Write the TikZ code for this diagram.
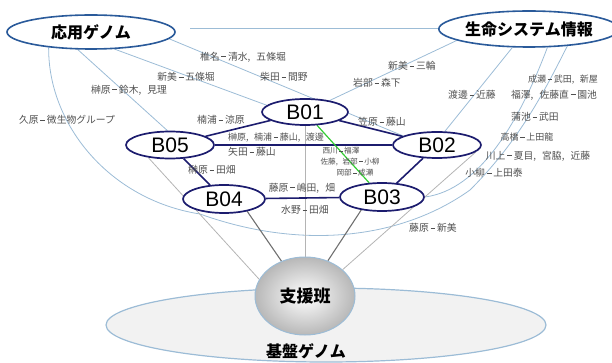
\documentclass[tikz,border=0pt]{standalone}
\usepackage{fontspec}
\setmainfont{Liberation Sans}
\newfontfamily\jp{Noto Sans CJK JP}
\usetikzlibrary{shapes.geometric}
\pgfdeclarelayer{back}\pgfdeclarelayer{mid}
\pgfsetlayers{back,mid,main}
\newcommand\hy{\makebox[0.85em]{\rule[0.34em]{0.5em}{0.075em}}}
\newcommand\cm{\makebox[0.9em][l]{,}}
\definecolor{navy}{HTML}{1C1C6E}
\definecolor{topblue}{HTML}{2A5A9A}
\definecolor{lblue}{HTML}{9CBCD6}
\definecolor{lgray}{HTML}{B4B4B4}
\definecolor{dgray}{HTML}{707070}
\definecolor{labc}{HTML}{505050}
\definecolor{grn}{HTML}{33CC33}
\tikzset{
  topell/.style={ellipse,draw=topblue,line width=1.6pt,fill=white,inner sep=0pt,font=\jp\bfseries\fontsize{16}{16}\selectfont},
  bell/.style={ellipse,draw=navy,line width=1.7pt,fill=white,inner sep=0pt,font=\fontsize{21}{21}\selectfont},
  lab/.style={font=\jp\fontsize{9.8}{9.8}\selectfont,text=labc,inner sep=0pt},
  labm/.style={font=\jp\fontsize{9}{9}\selectfont,text=labc,inner sep=0pt},
  labs/.style={font=\jp\fontsize{7.6}{7.6}\selectfont,text=labc,inner sep=0pt},
  bline/.style={draw=navy,line width=1.6pt},
  lbl/.style={draw=lblue,line width=0.8pt},
  gline/.style={draw=lgray,line width=0.8pt},
  dline/.style={draw=dgray,line width=1.1pt},
}
\begin{document}
\begin{tikzpicture}[x=1pt,y=-1pt]
\useasboundingbox (0,0) rectangle (612,363);
% nodes
\node[topell,minimum width=168pt,minimum height=34pt] (oyo) at (91,32) {応用ゲノム};
\node[topell,minimum width=164pt,minimum height=36pt] (seimei) at (529,29) {生命システム情報};
\node[bell,minimum width=86pt,minimum height=26pt] (B01) at (305,112) {B01};
\node[bell,minimum width=88pt,minimum height=27pt] (B05) at (170,145) {B05};
\node[bell,minimum width=88pt,minimum height=26pt] (B02) at (437,145) {B02};
\node[bell,minimum width=82pt,minimum height=28pt] (B04) at (224,199) {B04};
\node[bell,minimum width=84pt,minimum height=28pt] (B03) at (382,197) {B03};
\node[ellipse,draw=lblue,line width=1pt,minimum width=100pt,minimum height=78pt,inner sep=0pt,
      inner color=white,outer color=black!28,font=\jp\bfseries\fontsize{17}{17}\selectfont] (shien) at (305,296) {支援班};
\begin{pgfonlayer}{back}
\node[ellipse,draw=lblue,line width=1.2pt,fill=black!5,minimum width=440pt,minimum height=74pt] (kiban) at (326,325) {};
\end{pgfonlayer}
\node[font=\jp\bfseries\fontsize{16}{16}\selectfont,inner sep=0pt] (kibant) at (306,351) {基盤ゲノム};
\begin{pgfonlayer}{mid}
% top link
\coordinate (h1) at (190,28);
\draw[lbl] (h1) -- (seimei.west |- h1);
% blue lines
\draw[lbl] (oyo.-5) -- (B02.165);
\draw[lbl] (oyo.-36) -- (B01.170);
\draw[lbl] (oyo.-127) -- (B05.100);
\draw[lbl] (oyo.-160) .. controls (48,125) and (110,200) .. (200,214)
   .. controls (300,250) and (400,240) .. (470,190) .. controls (520,140) and (545,90) .. (seimei.-24);
\draw[lbl] (seimei.-171) -- (B01.25);
\draw[lbl] (seimei.-132) -- (B02.60);
\draw[lbl] (seimei.-45) .. controls (520,120) and (480,190) .. (B03.east);
% gray lines
\draw[gline] (B05.-150) -- (shien.160);
\draw[gline] (B02.-10) -- (shien.35);
\draw[gline] (B01.south) -- (shien.north);
\draw[dline] (B04.-28) -- (shien.124);
\draw[dline] (B03.212) -- (shien.57);
% B network
\draw[bline] (B01) -- (B05);
\draw[bline] (B01) -- (B02);
\draw[bline] (B05) -- (B04);
\draw[bline] (B02) -- (B03);
\draw[bline] (B04) -- (B03);
\draw[bline] (B05) -- (B02);
\draw[draw=grn,line width=1.2pt] (B01) -- (B03);
\end{pgfonlayer}
% labels
\node[lab] at (243,57) {椎名\hy 清水\cm 五條堀};
\node[lab] at (186,77) {新美\hy 五條堀};
\node[lab] at (284,77) {柴田\hy 間野};
\node[lab] at (412,66) {新美\hy 三輪};
\node[lab] at (377,83) {岩部\hy 森下};
\node[lab] at (129,90) {榊原\hy 鈴木\cm 見理};
\node[lab] at (67,120) {久原\hy 微生物グループ};
\node[lab] at (472,95) {渡邊\hy 近藤};
\node[labm] at (563,80) {成瀬\hy 武田\cm 新屋};
\node[lab] at (554,95) {福澤\cm 佐藤直\hy 園池};
\node[lab] at (535,117) {蒲池\hy 武田};
\node[labm] at (527,137) {高橋\hy 上田龍};
\node[lab] at (538,156) {川上\hy 夏目\cm 宮脇\cm 近藤};
\node[lab] at (494,173) {小柳\hy 上田泰};
\node[lab] at (433,228) {藤原\hy 新美};
\node[lab] at (221,120) {楠浦\hy 涼原};
\node[lab] at (382,122) {笠原\hy 藤山};
\node[labm] at (276,138) {榊原\cm 楠浦\hy 藤山\cm 渡邊};
\node[lab] at (252,152) {矢田\hy 藤山};
\node[lab] at (212,170) {榊原\hy 田畑};
\node[labs] at (341,151) {西川\hy 福澤};
\node[labs] at (350,162) {佐藤\cm 岩部\hy 小柳};
\node[labs] at (355,173) {岡部\hy 成瀬};
\node[lab] at (302,188) {藤原\hy 嶋田\cm 畑};
\node[lab] at (305,210) {水野\hy 田畑};
\end{tikzpicture}
\end{document}
